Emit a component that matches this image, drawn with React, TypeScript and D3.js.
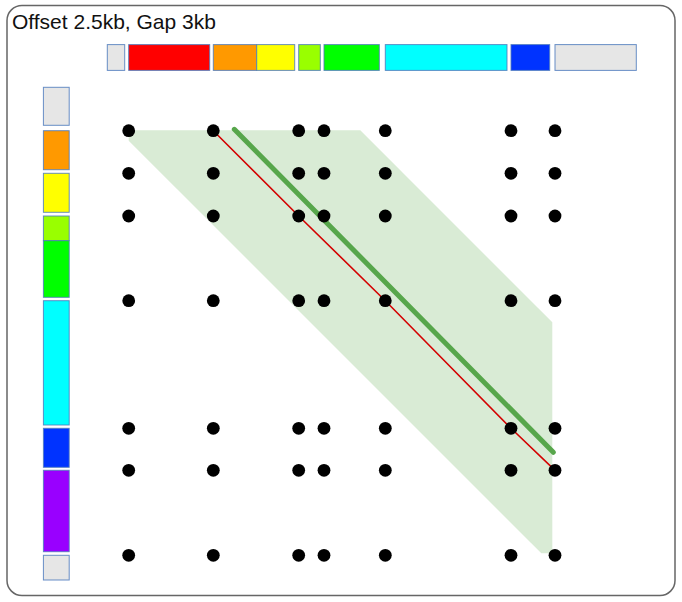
import React, { useMemo } from 'react';
import * as d3 from 'd3';

interface Segment {
  id: string;
  start: number; // kb
  end: number; // kb
}

interface Pt {
  x: number;
  y: number;
}

const title = 'Offset 2.5kb, Gap 3kb';

// horizontal genome (kb)
const xSegments: Segment[] = [
  { id: 'grey', start: 0, end: 1.74 },
  { id: 'red', start: 2.14, end: 10.24 },
  { id: 'orange', start: 10.6, end: 14.94 },
  { id: 'yellow', start: 14.94, end: 18.74 },
  { id: 'lime', start: 19.14, end: 21.3 },
  { id: 'green', start: 21.67, end: 27.2 },
  { id: 'cyan', start: 27.8, end: 39.97 },
  { id: 'blue', start: 40.37, end: 44.24 },
  { id: 'grey2', start: 44.77, end: 52.9 },
];

// vertical genome (kb)
const ySegments: Segment[] = [
  { id: 'grey', start: 0, end: 3.8 },
  { id: 'orange', start: 4.34, end: 8.24 },
  { id: 'yellow', start: 8.6, end: 12.5 },
  { id: 'lime', start: 12.87, end: 15.34 },
  { id: 'green', start: 15.34, end: 21.0 },
  { id: 'cyan', start: 21.34, end: 33.77 },
  { id: 'blue', start: 34.1, end: 38.0 },
  { id: 'purple', start: 38.3, end: 46.44 },
  { id: 'grey2', start: 46.8, end: 49.27 },
];

// matched breakpoints (x segment id, y segment id) joined by the red chain
const chainPairs: [string, string][] = [
  ['orange', 'orange'],
  ['lime', 'lime'],
  ['cyan', 'cyan'],
  ['blue', 'blue'],
  ['grey2', 'purple'],
];

// fitted diagonal (kb)
const fitLine: Pt[] = [
  { x: 12.7, y: 4.2 },
  { x: 44.6, y: 36.5 },
];

// band of allowed diagonal offsets (x - y, kb) and the box it is clipped to
const bandOffsets: [number, number] = [-3.2, 21.0];
const bandBox = { x0: 2.14, x1: 44.5, y0: 4.3, y1: 46.6 };

const segmentColors: Record<string, string> = {
  grey: '#e6e6e6',
  grey2: '#e6e6e6',
  red: '#ff0000',
  orange: '#ff9900',
  yellow: '#ffff00',
  lime: '#99ff00',
  green: '#00ff00',
  cyan: '#00ffff',
  blue: '#0033ff',
  purple: '#9900ff',
};

const W = 682;
const H = 602;
const pxPerKb = 10;
const origin = { x: 107.3, y: 87.3 };

// clip a polygon by half-plane f(p) >= 0 (f linear)
function clipHalf(poly: Pt[], f: (p: Pt) => number): Pt[] {
  const out: Pt[] = [];
  for (let i = 0; i < poly.length; i++) {
    const a = poly[i];
    const b = poly[(i + 1) % poly.length];
    const fa = f(a);
    const fb = f(b);
    if (fa >= 0) out.push(a);
    if ((fa >= 0) !== (fb >= 0)) {
      const t = fa / (fa - fb);
      out.push({ x: a.x + t * (b.x - a.x), y: a.y + t * (b.y - a.y) });
    }
  }
  return out;
}

const breaks = (segs: Segment[]) =>
  segs.filter((s, i) => i > 0 && s.start > segs[i - 1].end + 1e-6);

const App: React.FC = () => {
  const { x, y, band, xBreaks, yBreaks, chain } = useMemo(() => {
    const xMax = d3.max(xSegments, (d) => d.end) as number;
    const yMax = d3.max(ySegments, (d) => d.end) as number;
    const x = d3.scaleLinear().domain([0, xMax]).range([origin.x, origin.x + xMax * pxPerKb]);
    const y = d3.scaleLinear().domain([0, yMax]).range([origin.y, origin.y + yMax * pxPerKb]);

    let poly: Pt[] = [
      { x: bandBox.x0, y: bandBox.y0 },
      { x: bandBox.x1, y: bandBox.y0 },
      { x: bandBox.x1, y: bandBox.y1 },
      { x: bandBox.x0, y: bandBox.y1 },
    ];
    poly = clipHalf(poly, (p) => p.x - p.y - bandOffsets[0]);
    poly = clipHalf(poly, (p) => bandOffsets[1] - (p.x - p.y));

    const xById = new Map(xSegments.map((s) => [s.id, s.start]));
    const yById = new Map(ySegments.map((s) => [s.id, s.start]));
    const chain: Pt[] = chainPairs.map(([a, b]) => ({ x: xById.get(a)!, y: yById.get(b)! }));

    return { x, y, band: poly, xBreaks: breaks(xSegments), yBreaks: breaks(ySegments), chain };
  }, []);

  const line = d3
    .line<Pt>()
    .x((d) => x(d.x))
    .y((d) => y(d.y));

  const barTop = 44.6;
  const barSize = 25.8;
  const barLeft = 43.4;

  return (
    <svg
      width={W}
      height={H}
      viewBox={`0 0 ${W} ${H}`}
      style={{ position: 'absolute', left: 0, top: 0 }}
      fontFamily="'Liberation Sans', Arial, sans-serif"
    >
      <rect x={7} y={5.5} width={668} height={590} rx={15} fill="#fff" stroke="#666" strokeWidth={1.5} />
      <text x={12} y={29} fontSize={21} fill="#111">
        {title}
      </text>

      {/* top genome */}
      {xSegments.map((s, i) => (
        <rect
          key={`x${i}`}
          x={x(s.start)}
          y={barTop}
          width={x(s.end) - x(s.start)}
          height={barSize}
          fill={segmentColors[s.id]}
          stroke="#4f7bbd"
          strokeOpacity={0.85}
          strokeWidth={1}
        />
      ))}

      {/* left genome */}
      {ySegments.map((s, i) => (
        <rect
          key={`y${i}`}
          x={barLeft}
          y={y(s.start)}
          width={barSize}
          height={y(s.end) - y(s.start)}
          fill={segmentColors[s.id]}
          stroke="#4f7bbd"
          strokeOpacity={0.85}
          strokeWidth={1}
        />
      ))}

      {/* band */}
      <path d={(line(band) || '') + 'Z'} fill="#d9ebd5" />

      {/* red chain */}
      <path d={line(chain) || ''} fill="none" stroke="#d40000" strokeWidth={1.6} />

      {/* fitted diagonal */}
      <path d={line(fitLine) || ''} fill="none" stroke="#57a64b" strokeWidth={5} strokeLinecap="round" />

      {/* breakpoint grid */}
      {xBreaks.map((bx) =>
        yBreaks.map((by) => (
          <circle key={`${bx.id}-${by.id}`} cx={x(bx.start)} cy={y(by.start)} r={6.4} fill="#000" />
        ))
      )}
    </svg>
  );
};

export default App;
